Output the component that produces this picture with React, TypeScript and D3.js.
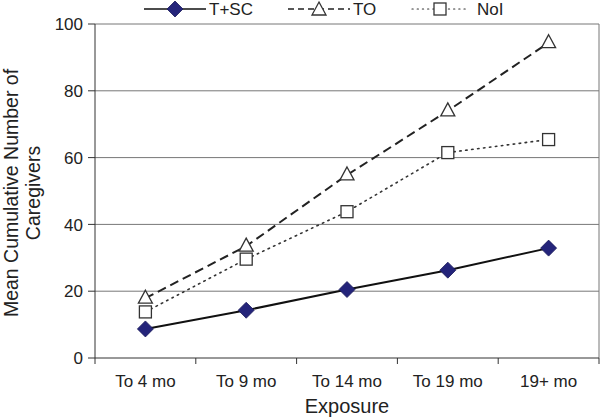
import React from "react";
import * as d3 from "d3";

const categories = ["To 4 mo", "To 9 mo", "To 14 mo", "To 19 mo", "19+ mo"];
const tscValues = [8.7, 14.3, 20.5, 26.3, 32.9];
const toValues = [17.9, 33.5, 54.8, 74.0, 94.4];
const noiValues = [13.8, 29.6, 43.8, 61.5, 65.4];
const yTicks = [0, 20, 40, 60, 80, 100];
const seriesNames = ["T+SC", "TO", "NoI"];

const W = 600, H = 418;
const left = 95, right = 599, top = 24, bottom = 358;
const font = "'Liberation Sans', Arial, sans-serif";

export default function App() {
  const x = d3.scaleBand<string>().domain(categories).range([left, right]);
  const y = d3.scaleLinear().domain([0, 100]).range([bottom, top]);
  const cx = (c: string) => (x(c) as number) + x.bandwidth() / 2;
  const line = d3.line<number>().x((_, i) => cx(categories[i])).y((v) => y(v));

  const diamond = (px: number, py: number, key?: string) => (
    <path key={key} d={`M${px},${py - 8}L${px + 8},${py}L${px},${py + 8}L${px - 8},${py}Z`} fill="#24247a" stroke="#1a1a5a" strokeWidth={0.8} />
  );
  const triangle = (px: number, py: number, key?: string) => (
    <path key={key} d={`M${px},${py - 8}L${px + 7},${py + 5}L${px - 7},${py + 5}Z`} fill="#fff" stroke="#333" strokeWidth={1.3} />
  );
  const square = (px: number, py: number, key?: string) => (
    <rect key={key} x={px - 6} y={py - 6} width={12} height={12} fill="#fff" stroke="#333" strokeWidth={1.3} />
  );

  return (
    <svg width={W} height={H} style={{ position: "absolute", left: 0, top: 0 }} fontFamily={font}>
      <rect width={W} height={H} fill="#fff" />
      {/* gridlines */}
      {yTicks.filter((t) => t > 0).map((t) => (
        <line key={t} x1={left} x2={right} y1={y(t)} y2={y(t)} stroke="#777" strokeWidth={1} />
      ))}
      <line x1={right} x2={right} y1={top} y2={bottom} stroke="#777" strokeWidth={1} />
      {/* axes */}
      <line x1={left} x2={left} y1={top} y2={bottom} stroke="#333" strokeWidth={1} />
      <line x1={left} x2={right} y1={bottom} y2={bottom} stroke="#333" strokeWidth={1} />
      {yTicks.map((t) => (
        <g key={t}>
          <line x1={left - 7} x2={left} y1={y(t)} y2={y(t)} stroke="#333" />
          <text x={left - 12} y={y(t)} dy="0.36em" textAnchor="end" fontSize={17} fill="#222">{t}</text>
        </g>
      ))}
      {categories.map((c, i) => (
        <g key={c}>
          <line x1={x(c) as number} x2={x(c) as number} y1={bottom} y2={bottom + 6} stroke="#333" />
          {i === categories.length - 1 && <line x1={right} x2={right} y1={bottom} y2={bottom + 6} stroke="#333" />}
          <text x={cx(c)} y={381} dy="0.36em" textAnchor="middle" fontSize={17} fill="#222">{c}</text>
        </g>
      ))}
      <text x={(left + right) / 2} y={406} dy="0.36em" textAnchor="middle" fontSize={20} fill="#222">Exposure</text>
      <text transform={`translate(11,193) rotate(-90)`} textAnchor="middle" dy="0.36em" fontSize={19.5} fill="#222">Mean Cumulative Number of</text>
      <text transform={`translate(33,193) rotate(-90)`} textAnchor="middle" dy="0.36em" fontSize={19.5} fill="#222">Caregivers</text>

      {/* lines */}
      <path d={line(noiValues) as string} fill="none" stroke="#333" strokeWidth={1.6} strokeDasharray="1.5,4.5" strokeLinecap="round" />
      <path d={line(toValues) as string} fill="none" stroke="#222" strokeWidth={2} strokeDasharray="9,5" />
      <path d={line(tscValues) as string} fill="none" stroke="#111" strokeWidth={2} />
      {noiValues.map((v, i) => square(cx(categories[i]), y(v), "s" + i))}
      {toValues.map((v, i) => triangle(cx(categories[i]), y(v), "t" + i))}
      {tscValues.map((v, i) => diamond(cx(categories[i]), y(v), "d" + i))}

      {/* legend */}
      <g>
        <line x1={144} x2={206} y1={9} y2={9} stroke="#111" strokeWidth={1.5} />
        {diamond(175, 9)}
        <text x={209} y={9} dy="0.36em" fontSize={17} fill="#222">{seriesNames[0]}</text>
        <line x1={288} x2={350} y1={9} y2={9} stroke="#222" strokeWidth={1.3} strokeDasharray="6,4" />
        {triangle(319, 10)}
        <text x={353} y={9} dy="0.36em" fontSize={17} fill="#222">{seriesNames[1]}</text>
        <line x1={412} x2={468} y1={9} y2={9} stroke="#333" strokeWidth={1.2} strokeDasharray="1.2,4" strokeLinecap="round" />
        {square(440, 9)}
        <text x={477} y={9} dy="0.36em" fontSize={17} fill="#222">{seriesNames[2]}</text>
      </g>
    </svg>
  );
}
